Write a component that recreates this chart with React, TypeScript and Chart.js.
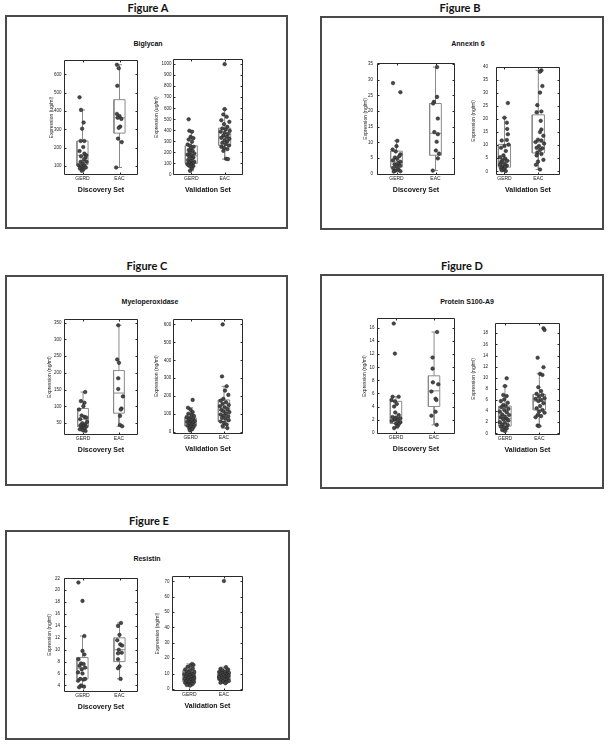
import React, { useEffect, useRef } from 'react';
import { Chart, registerables } from 'chart.js';
Chart.register(...registerables);

// ---------------- text ----------------
const figureTitles = ['Figure A', 'Figure B', 'Figure C', 'Figure D', 'Figure E'];
const proteinNames = ['Biglycan', 'Annexin 6', 'Myeloperoxidase', 'Protein S100-A9', 'Resistin'];
const yAxisTitles = ['Expression (ug/ml)', 'Expression (ng/ml)', 'Expression (ng/ml)', 'Expression (ng/ml)', 'Expression (ng/ml)'];
const setNames = ['Discovery Set', 'Validation Set'];
const groupLabels = ['GERD', 'EAC'];
const groupTicks = [1, 2];

// ---------------- data ----------------
// Biglycan
const bigDiscGerd = [475, 406, 337, 303, 236, 236, 203, 181, 167, 158, 152, 145, 134, 122, 122, 113, 104, 100, 95, 91, 86, 80, 73];
const bigDiscGerdJit = [-0.08, -0.04, 0.03, -0.01, -0.05, 0.05, 0.02, -0.08, 0.05, 0.10, -0.04, 0.08, 0.04, -0.05, 0.11, 0.01, -0.11, 0.05, -0.04, 0.09, -0.07, 0.02, -0.02];
const bigDiscEac = [653, 634, 538, 384, 372, 363, 357, 315, 308, 249, 230, 91];
const bigDiscEacJit = [-0.07, -0.02, -0.06, -0.07, 0, -0.05, 0.05, 0.02, -0.02, -0.04, 0.06, -0.09];
const bigDiscGerdBox = [73, 107, 158, 236, 406];
const bigDiscEacBox = [91, 279, 363, 462, 653];
const bigDiscTicks = [100, 200, 300, 400, 500, 600];

const bigValGerd = [500, 396, 387, 341, 329, 317, 296, 272, 260, 251, 236, 221, 214, 199, 190, 181, 172, 160, 154, 142, 130, 121, 115, 106, 100, 94, 88, 82, 76, 69, 54, 33];
const bigValGerdJit = [-0.08, -0.06, 0.02, -0.02, 0.06, -0.08, 0.02, -0.11, -0.04, 0.07, -0.01, -0.08, 0.04, -0.04, 0.09, -0.11, 0, -0.06, 0.06, 0.02, -0.10, -0.02, 0.09, -0.06, 0.04, -0.12, 0, -0.08, 0.06, -0.02, 0.02, -0.04];
const bigValEac = [1000, 592, 544, 523, 492, 477, 456, 432, 417, 408, 396, 387, 378, 366, 353, 341, 332, 323, 311, 299, 287, 275, 263, 251, 239, 230, 214, 142, 139];
const bigValEacJit = [0, 0, -0.04, 0.06, -0.10, 0.14, -0.02, 0.08, -0.07, 0.03, 0.15, -0.12, 0, 0.10, -0.04, 0.06, -0.10, 0.14, 0, 0.08, -0.07, 0.03, 0.13, -0.10, -0.02, 0.08, -0.04, 0.04, 0.10];
const bigValGerdBox = [33, 100, 169, 260, 396];
const bigValEacBox = [139, 265, 340, 420, 592];
const bigValTicks = [0, 100, 200, 300, 400, 500, 600, 700, 800, 900, 1000];

// Annexin 6
const anxDiscGerd = [28.9, 26.0, 10.5, 8.8, 7.7, 7.1, 6.2, 5.6, 5.2, 4.7, 4.3, 3.8, 3.3, 3.0, 2.6, 2.3, 1.8, 1.4, 1.0, 0.8, 0.7];
const anxDiscGerdJit = [-0.09, 0.10, 0.02, 0, -0.10, -0.02, 0.10, 0.07, -0.04, 0.02, -0.09, 0.10, 0.04, -0.05, 0.09, 0, -0.09, 0.05, -0.03, 0.10, -0.07];
const anxDiscEac = [34.0, 24.5, 22.9, 22.4, 17.6, 13.3, 12.6, 10.2, 7.4, 6.4, 4.9, 1.0];
const anxDiscEacJit = [0.04, 0.04, -0.04, -0.06, 0.06, -0.03, 0.06, 0.03, 0.01, 0.09, 0.06, -0.07];
const anxDiscGerdBox = [0.7, 2.1, 3.8, 7.2, 10.5];
const anxDiscEacBox = [1.0, 5.9, 12.9, 22.4, 34.0];
const anxDiscTicks = [0, 5, 10, 15, 20, 25, 30, 35];

const anxValGerd = [26.1, 20.5, 18.6, 16.2, 14.2, 12.0, 11.8, 10.2, 9.7, 9.0, 7.8, 6.1, 5.4, 4.9, 4.3, 4.0, 3.4, 3.0, 2.5, 2.2, 1.8, 1.6, 1.1, 0.7, 0.4, 0.1];
const anxValGerdJit = [0.10, 0, 0.07, 0.08, 0.10, 0.07, -0.08, 0.12, 0, -0.10, 0.04, -0.03, -0.13, 0.02, -0.06, 0.08, -0.10, 0, -0.13, 0.07, -0.06, 0.02, -0.10, -0.02, -0.08, 0.04];
const anxValEac = [38.6, 38.1, 32.6, 30.1, 25.3, 22.9, 22.6, 19.3, 16.0, 15.0, 13.6, 12.1, 11.8, 11.2, 10.6, 9.7, 9.0, 8.8, 8.2, 7.2, 6.6, 6.1, 4.4, 3.7, 2.5, 0.7];
const anxValEacJit = [0.09, 0.05, 0.12, 0.05, -0.03, 0.09, -0.05, 0.07, 0.09, 0.05, 0.15, -0.01, 0.09, -0.08, 0.17, 0.02, -0.05, 0.12, 0.05, -0.03, 0.09, -0.05, 0.15, -0.01, -0.07, 0.05];
const anxValGerdBox = [0, 1.6, 4.0, 10.3, 20.5];
const anxValEacBox = [0.7, 7.0, 11.2, 21.6, 38.6];
const anxValTicks = [0, 5, 10, 15, 20, 25, 30, 35, 40];

// Myeloperoxidase
const mpoDiscGerd = [143, 116, 111, 101, 91, 73, 69, 67, 62, 54, 50, 47, 44, 42, 40, 37, 35, 32, 29, 27];
const mpoDiscGerdJit = [0.06, -0.06, 0.04, 0.01, -0.11, -0.04, 0.04, 0.09, -0.08, 0.11, -0.02, 0.06, -0.07, 0.02, 0.09, -0.04, 0.04, -0.09, 0, 0.07];
const mpoDiscEac = [342, 240, 230, 184, 152, 130, 94, 91, 72, 45, 41];
const mpoDiscEacJit = [-0.02, -0.05, 0, -0.02, -0.02, 0.11, 0.07, 0.05, 0.03, 0.03, 0.09];
const mpoDiscGerdBox = [27, 40, 62, 94, 143];
const mpoDiscEacBox = [41, 80, 140, 207, 342];
const mpoDiscTicks = [50, 100, 150, 200, 250, 300, 350];

const mpoValGerd = [179, 135, 124, 111, 102, 96, 89, 83, 79, 74, 70, 65, 61, 57, 54, 50, 46, 42, 39, 35, 31, 26, 20, 15, 9];
const mpoValGerdJit = [0.06, -0.08, 0, 0.06, -0.07, 0.03, 0.10, -0.12, -0.02, 0.08, -0.06, 0.03, 0.12, -0.10, -0.01, 0.07, -0.05, 0.04, 0.11, -0.09, 0, 0.08, -0.04, 0.04, -0.02];
const mpoValEac = [600, 310, 255, 231, 207, 185, 175, 166, 157, 151, 144, 138, 129, 124, 116, 111, 105, 98, 92, 87, 79, 74, 66, 59, 52, 42, 33, 22];
const mpoValEacJit = [-0.04, -0.06, 0.08, 0.03, 0.13, -0.02, -0.10, 0.06, -0.04, 0.14, -0.12, 0.02, 0.10, -0.08, -0.02, 0.16, 0.06, -0.10, 0, 0.12, -0.06, 0.04, 0.14, -0.10, 0, 0.08, -0.04, 0.10];
const mpoValGerdBox = [9, 33, 52, 79, 135];
const mpoValEacBox = [22, 59, 120, 179, 255];
const mpoValTicks = [0, 100, 200, 300, 400, 500, 600];

// Protein S100-A9
const s100DiscGerd = [16.7, 12.1, 5.5, 5.5, 5.0, 4.8, 4.4, 4.0, 3.1, 2.7, 2.4, 2.3, 2.2, 2.0, 1.9, 1.8, 1.6, 1.4, 1.3, 1.0, 0.7];
const s100DiscGerdJit = [-0.06, -0.03, -0.09, 0.07, -0.12, -0.03, 0.02, -0.05, -0.02, 0.07, -0.09, 0, 0.11, -0.04, 0.04, -0.11, 0.11, 0, 0.07, 0.04, -0.05];
const s100DiscEac = [15.4, 11.5, 9.8, 7.7, 7.4, 6.3, 5.2, 5.0, 3.2, 2.6, 1.2];
const s100DiscEacJit = [0.08, -0.04, -0.04, -0.03, 0.11, -0.07, 0.04, 0.06, 0.04, -0.07, 0.07];
const s100DiscGerdBox = [0.7, 1.4, 2.3, 4.8, 5.5];
const s100DiscEacBox = [1.2, 4.0, 6.4, 8.7, 15.4];
const s100DiscTicks = [0, 2, 4, 6, 8, 10, 12, 14, 16];

const s100ValGerd = [9.9, 8.5, 6.9, 6.7, 6.1, 5.8, 5.5, 5.1, 4.9, 4.7, 4.4, 4.2, 3.9, 3.8, 3.4, 3.3, 3.0, 2.9, 2.6, 2.5, 2.3, 2.0, 1.9, 1.6, 1.5, 1.2, 1.1, 0.9, 0.6, 0.4];
const s100ValGerdJit = [0.05, 0, -0.05, 0.05, -0.02, -0.12, 0.08, -0.05, 0.02, -0.10, 0.10, -0.02, -0.15, 0.05, -0.08, 0.12, 0, -0.12, 0.05, -0.05, 0.10, -0.15, 0, -0.08, 0.08, -0.12, -0.02, 0.05, -0.08, 0];
const s100ValEac = [18.9, 18.6, 13.6, 11.9, 10.7, 10.5, 8.3, 7.6, 7.1, 6.9, 6.6, 6.3, 6.2, 6.0, 5.8, 5.4, 4.9, 4.5, 4.2, 3.9, 3.7, 3.3, 3.1, 2.9, 1.4, 1.3];
const s100ValEacJit = [0.12, 0.15, -0.05, 0.12, 0.02, 0.09, -0.03, 0.05, -0.08, 0.09, -0.01, 0.15, -0.11, 0.05, -0.03, 0.12, 0.02, -0.08, 0.09, -0.01, 0.15, -0.05, 0.05, -0.11, -0.05, -0.01];
const s100ValGerdBox = [0.4, 1.3, 2.7, 4.9, 8.5];
const s100ValEacBox = [1.3, 4.2, 5.8, 7.0, 10.7];
const s100ValTicks = [0, 2, 4, 6, 8, 10, 12, 14, 16, 18];

// Resistin
const resDiscGerd = [21.3, 18.2, 12.3, 9.8, 9.2, 8.4, 7.7, 7.6, 7.3, 7.0, 6.7, 6.2, 6.0, 5.1, 5.1, 5.0, 4.8, 4.0, 3.8, 3.7];
const resDiscGerdJit = [-0.11, 0, 0.05, 0, 0.05, -0.11, -0.04, 0.03, -0.08, 0.07, -0.02, -0.12, 0, 0.07, -0.06, 0.03, -0.12, -0.04, 0.04, -0.09];
const resDiscEac = [14.5, 14.0, 12.5, 11.6, 10.9, 10.7, 10.0, 9.5, 9.4, 8.4, 7.2, 6.9, 5.1];
const resDiscEacJit = [0.04, -0.04, 0, -0.06, 0.02, 0.07, -0.02, 0.06, -0.04, -0.04, 0, -0.04, 0.03];
const resDiscGerdBox = [3.7, 5.1, 6.9, 8.7, 12.3];
const resDiscEacBox = [5.1, 8.0, 10.0, 12.0, 14.5];
const resDiscTicks = [4, 6, 8, 10, 12, 14, 16, 18, 20, 22];

const resValGerd = [16.3, 15.6, 15.1, 14.4, 13.3, 12.7, 12.2, 11.4, 11.0, 10.7, 10.1, 9.6, 9.4, 9.0, 8.7, 8.3, 8.1, 7.7, 7.3, 7.1, 6.6, 6.4, 6.0, 5.8, 5.4, 5.1, 4.8, 4.4, 4.1, 3.7, 3.3, 3.1, 2.6, 2.2];
const resValGerdJit = [0.08, 0.12, 0.03, -0.05, 0.10, -0.12, 0.02, -0.08, 0.14, -0.02, 0.06, -0.14, 0.10, -0.06, 0.01, 0.12, -0.10, 0.05, -0.03, 0.14, -0.13, 0.08, -0.06, 0.03, 0.11, -0.09, 0, 0.13, -0.12, 0.06, -0.04, 0.09, -0.07, 0.02];
const resValEac = [70.2, 14.2, 13.1, 12.7, 12.1, 11.8, 11.2, 10.9, 10.4, 10.2, 9.7, 9.5, 9.1, 8.9, 8.5, 8.3, 7.9, 7.7, 7.4, 7.0, 6.8, 6.5, 6.1, 5.9, 5.6, 5.2, 4.9, 4.5, 4.1, 3.8];
const resValEacJit = [0, 0.06, -0.10, 0.12, -0.04, 0.09, -0.13, 0.03, 0.14, -0.07, 0.05, -0.11, 0.10, -0.02, 0.13, -0.09, 0.04, -0.14, 0.08, -0.05, 0.11, -0.12, 0.02, 0.09, -0.08, 0.14, -0.03, 0.07, -0.10, 0.04];
const resValGerdBox = [2.2, 4.7, 8.0, 12.2, 16.3];
const resValEacBox = [3.8, 5.8, 8.6, 11.6, 14.2];
const resValTicks = [0, 10, 20, 30, 40, 50, 60, 70];

// ---------------- layout ----------------
const YW = 26, PT = 4, PR = 4, XH = 22;
const FONT = "'Liberation Sans', Arial, Helvetica, sans-serif";

type Sub = {
  l: number; t: number; w: number; h: number;
  xMin: number; xMax: number; yMin: number; yMax: number;
  yTicks: number[]; yTitle: string; xTitle: string;
  tickPad: number; titleGap: number; hw: number;
  gerd: number[]; gerdJit: number[]; eac: number[]; eacJit: number[];
  gerdBox: number[]; eacBox: number[];
};

const subs: Sub[] = [
  { l: 64, t: 59, w: 74, h: 116, xMin: 0.5, xMax: 2.5, yMin: 50, yMax: 678, yTicks: bigDiscTicks, yTitle: yAxisTitles[0], xTitle: setNames[0], tickPad: 2.5, titleGap: 12.5, hw: 0.15,
    gerd: bigDiscGerd, gerdJit: bigDiscGerdJit, eac: bigDiscEac, eacJit: bigDiscEacJit, gerdBox: bigDiscGerdBox, eacBox: bigDiscEacBox },
  { l: 173, t: 59, w: 70, h: 116, xMin: 0.45, xMax: 2.55, yMin: -5, yMax: 1045, yTicks: bigValTicks, yTitle: yAxisTitles[0], xTitle: setNames[1], tickPad: 1.5, titleGap: 16, hw: 0.18,
    gerd: bigValGerd, gerdJit: bigValGerdJit, eac: bigValEac, eacJit: bigValEacJit, gerdBox: bigValGerdBox, eacBox: bigValEacBox },
  { l: 377, t: 60, w: 78, h: 115, xMin: 0.5, xMax: 2.5, yMin: -0.4, yMax: 35.4, yTicks: anxDiscTicks, yTitle: yAxisTitles[1], xTitle: setNames[0], tickPad: 4, titleGap: 11.6, hw: 0.15,
    gerd: anxDiscGerd, gerdJit: anxDiscGerdJit, eac: anxDiscEac, eacJit: anxDiscEacJit, gerdBox: anxDiscGerdBox, eacBox: anxDiscEacBox },
  { l: 496, t: 60, w: 64, h: 115, xMin: 0.75, xMax: 2.64, yMin: -1.4, yMax: 40, yTicks: anxValTicks, yTitle: yAxisTitles[1], xTitle: setNames[1], tickPad: 8, titleGap: 22, hw: 0.18,
    gerd: anxValGerd, gerdJit: anxValGerdJit, eac: anxValEac, eacJit: anxValEacJit, gerdBox: anxValGerdBox, eacBox: anxValEacBox },
  { l: 64, t: 318, w: 74, h: 117, xMin: 0.47, xMax: 2.53, yMin: 15, yMax: 360, yTicks: mpoDiscTicks, yTitle: yAxisTitles[2], xTitle: setNames[0], tickPad: 2.5, titleGap: 14, hw: 0.15,
    gerd: mpoDiscGerd, gerdJit: mpoDiscGerdJit, eac: mpoDiscEac, eacJit: mpoDiscEacJit, gerdBox: mpoDiscGerdBox, eacBox: mpoDiscEacBox },
  { l: 173, t: 318, w: 70, h: 116, xMin: 0.47, xMax: 2.57, yMin: -11, yMax: 633, yTicks: mpoValTicks, yTitle: yAxisTitles[2], xTitle: setNames[1], tickPad: 1.8, titleGap: 16.5, hw: 0.17,
    gerd: mpoValGerd, gerdJit: mpoValGerdJit, eac: mpoValEac, eacJit: mpoValEacJit, gerdBox: mpoValGerdBox, eacBox: mpoValEacBox },
  { l: 377, t: 317, w: 78, h: 117, xMin: 0.5, xMax: 2.55, yMin: -0.2, yMax: 17.5, yTicks: s100DiscTicks, yTitle: yAxisTitles[3], xTitle: setNames[0], tickPad: 2.6, titleGap: 12, hw: 0.15,
    gerd: s100DiscGerd, gerdJit: s100DiscGerdJit, eac: s100DiscEac, eacJit: s100DiscEacJit, gerdBox: s100DiscGerdBox, eacBox: s100DiscEacBox },
  { l: 495, t: 317, w: 65, h: 118, xMin: 0.71, xMax: 2.6, yMin: -0.3, yMax: 19.9, yTicks: s100ValTicks, yTitle: yAxisTitles[3], xTitle: setNames[1], tickPad: 7, titleGap: 21.7, hw: 0.18,
    gerd: s100ValGerd, gerdJit: s100ValGerdJit, eac: s100ValEac, eacJit: s100ValEacJit, gerdBox: s100ValGerdBox, eacBox: s100ValEacBox },
  { l: 64, t: 575, w: 74, h: 117, xMin: 0.5, xMax: 2.5, yMin: 2.9, yMax: 22.1, yTicks: resDiscTicks, yTitle: yAxisTitles[4], xTitle: setNames[0], tickPad: 4, titleGap: 14, hw: 0.15,
    gerd: resDiscGerd, gerdJit: resDiscGerdJit, eac: resDiscEac, eacJit: resDiscEacJit, gerdBox: resDiscGerdBox, eacBox: resDiscEacBox },
  { l: 172, t: 575, w: 71, h: 116, xMin: 0.5, xMax: 2.55, yMin: -1.3, yMax: 73.4, yTicks: resValTicks, yTitle: yAxisTitles[4], xTitle: setNames[1], tickPad: 2.4, titleGap: 14.5, hw: 0.18,
    gerd: resValGerd, gerdJit: resValGerdJit, eac: resValEac, eacJit: resValEacJit, gerdBox: resValGerdBox, eacBox: resValEacBox },
];

const panels = [
  { l: 5, t: 15, w: 283, h: 214, tx: 148, ty: 7, sx: 148, sy: 43 },
  { l: 320, t: 16, w: 284, h: 214, tx: 460, ty: 7, sx: 468, sy: 43 },
  { l: 5, t: 275, w: 283, h: 211, tx: 147, ty: 265, sx: 150, sy: 301 },
  { l: 320, t: 274, w: 284, h: 215, tx: 462, ty: 265, sx: 467, sy: 301 },
  { l: 5, t: 530, w: 285, h: 210, tx: 149, ty: 520, sx: 147, sy: 558 },
];

// ---------------- helpers ----------------
function boxSegments(c: number, hw: number, b: number[]) {
  const [mn, q1, md, q3, mx] = b;
  const cap = hw * 0.45;
  const gap = { x: c, y: null as any };
  return [
    { x: c - hw, y: q1 }, { x: c + hw, y: q1 }, { x: c + hw, y: q3 }, { x: c - hw, y: q3 }, { x: c - hw, y: q1 }, gap,
    { x: c - hw, y: md }, { x: c + hw, y: md }, gap,
    { x: c, y: q3 }, { x: c, y: mx }, gap,
    { x: c - cap, y: mx }, { x: c + cap, y: mx }, gap,
    { x: c, y: q1 }, { x: c, y: mn }, gap,
    { x: c - cap, y: mn }, { x: c + cap, y: mn }, gap,
  ];
}

const framePlugin = {
  id: 'frameTicks',
  afterDraw(chart: any) {
    const { ctx, chartArea: a, scales } = chart;
    ctx.save();
    ctx.strokeStyle = '#2a2a2a';
    ctx.lineWidth = 1;
    const L = Math.round(a.left) + 0.5, T = Math.round(a.top) + 0.5;
    const R = Math.round(a.right) - 0.5, B = Math.round(a.bottom) - 0.5;
    ctx.beginPath();
    ctx.rect(L, T, R - L, B - T);
    ctx.stroke();
    const tl = 2;
    ctx.beginPath();
    for (const t of scales.y.ticks) {
      const py = Math.round(scales.y.getPixelForValue(t.value)) + 0.5;
      ctx.moveTo(L, py); ctx.lineTo(L + tl, py);
      ctx.moveTo(R - tl, py); ctx.lineTo(R, py);
    }
    for (const t of scales.x.ticks) {
      const px = Math.round(scales.x.getPixelForValue(t.value)) + 0.5;
      ctx.moveTo(px, B); ctx.lineTo(px, B - tl);
      ctx.moveTo(px, T); ctx.lineTo(px, T + tl);
    }
    ctx.stroke();
    ctx.restore();
  },
};

function SubChart({ s }: { s: Sub }) {
  const ref = useRef<HTMLCanvasElement>(null);
  const cw = YW + s.w + PR;
  const ch = PT + s.h + XH;
  useEffect(() => {
    const pts = (vals: number[], jit: number[], c: number) => vals.map((v, i) => ({ x: c + jit[i], y: v }));
    const pointStyle = { pointRadius: 1.8, pointHoverRadius: 1.8, backgroundColor: '#484848', borderColor: '#1c1c1c', borderWidth: 0.5 };
    const yTitleLH = 5 * 1.2;
    const chart = new Chart(ref.current as HTMLCanvasElement, {
      type: 'scatter',
      data: {
        datasets: [
          { data: pts(s.gerd, s.gerdJit, groupTicks[0]), ...pointStyle } as any,
          { data: pts(s.eac, s.eacJit, groupTicks[1]), ...pointStyle } as any,
          {
            data: [...boxSegments(groupTicks[0], s.hw, s.gerdBox), ...boxSegments(groupTicks[1], s.hw, s.eacBox)],
            showLine: true, spanGaps: false, pointRadius: 0, borderColor: '#8a8a8a', borderWidth: 1, fill: false,
          } as any,
        ],
      },
      options: {
        responsive: false,
        animation: false,
        devicePixelRatio: 1,
        events: [],
        layout: { padding: { left: 0, top: PT, right: PR, bottom: 0 }, autoPadding: false },
        plugins: { legend: { display: false }, tooltip: { enabled: false } },
        scales: {
          x: {
            type: 'linear', position: 'bottom', min: s.xMin, max: s.xMax,
            afterBuildTicks: (sc: any) => { sc.ticks = groupTicks.map((v) => ({ value: v })); },
            afterFit: (sc: any) => { sc.height = XH; },
            ticks: {
              callback: (v: any) => { const i = groupTicks.indexOf(v); return i >= 0 ? groupLabels[i] : ''; },
              font: { family: FONT, size: 5 }, color: '#222', padding: 1, maxRotation: 0, minRotation: 0, autoSkip: false,
            },
            grid: { display: false, drawTicks: false },
            border: { display: false },
            title: { display: true, text: s.xTitle, font: { family: FONT, size: 7, weight: 'bold' }, color: '#111', padding: { top: 0, bottom: 2.3 } },
          },
          y: {
            type: 'linear', position: 'left', min: s.yMin, max: s.yMax,
            afterBuildTicks: (sc: any) => { sc.ticks = s.yTicks.map((v) => ({ value: v })); },
            afterFit: (sc: any) => { sc.width = YW; },
            ticks: { callback: (v: any) => String(v), font: { family: FONT, size: 4.5 }, color: '#222', padding: s.tickPad, autoSkip: false },
            grid: { display: false, drawTicks: false },
            border: { display: false },
            title: { display: true, text: s.yTitle, font: { family: FONT, size: 5 }, color: '#222', padding: { top: Math.max(0, YW - s.titleGap - yTitleLH / 2), bottom: 0 } },
          },
        },
      } as any,
      plugins: [framePlugin],
    });
    return () => chart.destroy();
  }, []);
  return (
    <canvas
      ref={ref}
      width={cw}
      height={ch}
      style={{ position: 'absolute', left: s.l - YW, top: s.t - PT, width: cw, height: ch }}
    />
  );
}

function Txt({ x, y, text, size, family, weight }: { x: number; y: number; text: string; size: number; family: string; weight: any }) {
  return (
    <div
      style={{
        position: 'absolute', left: x, top: y, transform: 'translate(-50%, -50%)', whiteSpace: 'nowrap',
        fontSize: size, fontFamily: family, fontWeight: weight, lineHeight: 1, color: '#111',
      }}
    >
      {text}
    </div>
  );
}

export default function App() {
  return (
    <div style={{ position: 'absolute', left: 0, top: 0, width: 610, height: 750, background: '#fff', overflow: 'hidden' }}>
      {panels.map((p, i) => (
        <React.Fragment key={'p' + i}>
          <div
            style={{
              position: 'absolute', left: p.l, top: p.t, width: p.w, height: p.h, boxSizing: 'border-box',
              border: '2px solid #4a4a4a',
            }}
          />
          <Txt x={p.tx} y={p.ty} text={figureTitles[i]} size={11} family="Lato, 'Liberation Sans', sans-serif" weight={700} />
          <Txt x={p.sx} y={p.sy} text={proteinNames[i]} size={7} family={FONT} weight={700} />
        </React.Fragment>
      ))}
      {subs.map((s, i) => (
        <SubChart key={'s' + i} s={s} />
      ))}
    </div>
  );
}
